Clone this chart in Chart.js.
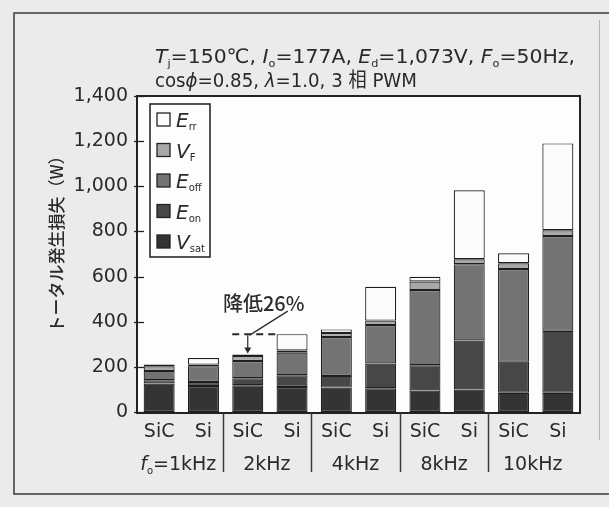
<!DOCTYPE html>
<html>
<head>
<meta charset="utf-8">
<style>
  html, body { margin: 0; padding: 0; background: #ebebeb; }
  canvas { display: block; }
</style>
<script src="https://cdn.jsdelivr.net/npm/chart.js@4.4.0/dist/chart.umd.min.js"></script>
</head>
<body>
<canvas id="chart" width="609" height="507"></canvas>
<script>
// Device under test for each bar, and the switching frequency of each SiC/Si pair
const devices = ['SiC', 'Si', 'SiC', 'Si', 'SiC', 'Si', 'SiC', 'Si', 'SiC', 'Si'];
const frequencies = ['1kHz', '2kHz', '4kHz', '8kHz', '10kHz'];
const yTicks = [0, 200, 400, 600, 800, 1000, 1200, 1400];
const yTitle = 'トータル発生損失（W）';

// Loss components (W), stacked from the bottom up
const vsat = [126, 115, 119, 111, 108, 105, 95, 100, 85, 85];
const eon  = [15, 18, 31, 52, 52, 110, 112, 217, 138, 275];
const eoff = [41, 70, 76, 100, 172, 170, 333, 338, 410, 420];
const vf   = [21, 7, 22, 10, 18, 20, 38, 22, 26, 25];
const err  = [7, 29, 7, 72, 16, 150, 21, 305, 44, 385];

// Series names: main symbol and subscript
const seriesNames = [['V', 'sat'], ['E', 'on'], ['E', 'off'], ['V', 'F'], ['E', 'rr']];
const seriesValues = [vsat, eon, eoff, vf, err];
const seriesColors = ['#343434', '#474747', '#737373', '#a8a8a8', '#fbfbfb'];

// Operating conditions shown above the plot ('i' italic, 's' subscript)
const conditions1 = [['T', 'i'], ['j', 's'], ['=150℃, ', ''], ['I', 'i'], ['o', 's'], ['=177A, ', ''],
                     ['E', 'i'], ['d', 's'], ['=1,073V, ', ''], ['F', 'i'], ['o', 's'], ['=50Hz,', '']];
const conditions2 = [['cos', ''], ['ϕ', 'i'], ['=0.85, ', ''], ['λ', 'i'], ['=1.0, 3 相 PWM', '']];

const ink = '#2a2a2a';
const sans = '"DejaVu Sans", "Noto Sans CJK JP", sans-serif';
const cjk = '"Noto Sans CJK JP", "DejaVu Sans", sans-serif';

const totals = devices.map((_, i) => seriesValues.reduce((s, arr) => s + arr[i], 0));

function segFont(seg, size) {
  const sz = seg[1] === 's' ? Math.round(size * 0.55) : size;
  return (seg[1] === 'i' ? 'italic ' : '') + sz + 'px ' + sans;
}

function drawRich(ctx, segs, x, yBase, size, targetW) {
  ctx.save();
  let w = 0;
  for (const s of segs) { ctx.font = segFont(s, size); w += ctx.measureText(s[0]).width; }
  const k = targetW ? targetW / w : 1;
  ctx.translate(x, yBase);
  ctx.scale(k, 1);
  ctx.textBaseline = 'alphabetic';
  ctx.textAlign = 'left';
  let cx = 0;
  for (const s of segs) {
    ctx.font = segFont(s, size);
    ctx.fillText(s[0], cx, s[1] === 's' ? size * 0.2 : 0);
    cx += ctx.measureText(s[0]).width;
  }
  ctx.restore();
  return w * k;
}

const paperPlugin = {
  id: 'paper',
  beforeDraw(chart) {
    const { ctx, chartArea: a } = chart;
    ctx.save();
    ctx.fillStyle = '#ebebeb';
    ctx.fillRect(0, 0, chart.width, chart.height);
    ctx.fillStyle = '#fdfdfd';
    ctx.fillRect(a.left, a.top, a.right - a.left, a.bottom - a.top);
    ctx.restore();
  },
  afterDraw(chart) {
    const { ctx, chartArea: a } = chart;
    const xs = chart.scales.x, ys = chart.scales.y;
    ctx.save();
    ctx.fillStyle = ink;
    ctx.strokeStyle = '#222';

    // page frame
    ctx.lineWidth = 1.5;
    ctx.strokeStyle = '#3a3a3a';
    ctx.beginPath();
    ctx.moveTo(609, 13); ctx.lineTo(14, 13); ctx.lineTo(14, 494); ctx.lineTo(609, 494);
    ctx.stroke();
    ctx.strokeStyle = '#b5b5b5';
    ctx.lineWidth = 1;
    ctx.beginPath(); ctx.moveTo(599.5, 20); ctx.lineTo(599.5, 440); ctx.stroke();

    // plot box
    ctx.strokeStyle = '#222';
    ctx.lineWidth = 2;
    ctx.strokeRect(a.left, a.top, a.right - a.left, a.bottom - a.top + 1);

    // inward tick marks on the value axis
    ctx.lineWidth = 1.3;
    for (const v of yTicks) {
      const py = Math.round(ys.getPixelForValue(v)) + 0.5;
      ctx.beginPath(); ctx.moveTo(a.left - 3, py); ctx.lineTo(a.left + 7, py); ctx.stroke();
    }

    // value axis title, reading bottom to top
    ctx.save();
    ctx.translate(57, 240);
    ctx.rotate(-Math.PI / 2);
    ctx.font = '500 17px ' + cjk;
    ctx.fillStyle = ink;
    ctx.textAlign = 'center';
    ctx.textBaseline = 'middle';
    ctx.fillText(yTitle, 0, 0);
    ctx.restore();

    // separators between frequency groups
    ctx.lineWidth = 1.5;
    ctx.strokeStyle = '#3a3a3a';
    for (let g = 1; g < frequencies.length; g++) {
      const px = Math.round((xs.getPixelForValue(2 * g - 1) + xs.getPixelForValue(2 * g)) / 2) - 2.5;
      ctx.beginPath(); ctx.moveTo(px, a.bottom + 1); ctx.lineTo(px, a.bottom + 60); ctx.stroke();
    }

    // frequency labels under each pair
    ctx.fillStyle = ink;
    frequencies.forEach((f, g) => {
      const cxp = (xs.getPixelForValue(2 * g) + xs.getPixelForValue(2 * g + 1)) / 2 - 3;
      const yb = a.bottom + 58;
      if (g === 0) {
        const segs = [['f', 'i'], ['o', 's'], ['=' + f, '']];
        let w = 0;
        for (const s of segs) { ctx.font = segFont(s, 19); w += ctx.measureText(s[0]).width; }
        drawRich(ctx, segs, cxp - w / 2, yb, 19, 0);
      } else {
        ctx.font = '19px ' + sans;
        ctx.textAlign = 'center';
        ctx.textBaseline = 'alphabetic';
        ctx.fillText(f, cxp, yb);
      }
    });

    // operating conditions
    ctx.fillStyle = ink;
    drawRich(ctx, conditions1, 155, 63, 20, 420);
    drawRich(ctx, conditions2, 155, 87, 20, 262);

    // legend
    const lx = 150, ly = 104, lw = 60, lh = 153;
    ctx.fillStyle = '#fdfdfd';
    ctx.fillRect(lx, ly, lw, lh);
    ctx.strokeStyle = '#2a2a2a';
    ctx.lineWidth = 1.6;
    ctx.strokeRect(lx, ly, lw, lh);
    for (let r = 0; r < seriesNames.length; r++) {
      const idx = seriesNames.length - 1 - r;
      const cy = 120 + 30.5 * r;
      ctx.fillStyle = seriesColors[idx];
      ctx.fillRect(157, cy - 7, 13, 13);
      ctx.lineWidth = 1.3;
      ctx.strokeStyle = '#222';
      ctx.strokeRect(157, cy - 7, 13, 13);
      ctx.fillStyle = ink;
      ctx.textAlign = 'left';
      ctx.textBaseline = 'alphabetic';
      ctx.font = 'italic 20px ' + sans;
      ctx.fillText(seriesNames[idx][0], 176, cy + 7);
      const mw = ctx.measureText(seriesNames[idx][0]).width;
      ctx.font = '10px ' + sans;
      ctx.fillText(seriesNames[idx][1], 176 + mw, cy + 10);
    }

    // reduction note between the 2 kHz SiC and Si bars
    const sicTop = ys.getPixelForValue(totals[2]);
    const siTop = ys.getPixelForValue(totals[3]);
    const cx2 = xs.getPixelForValue(2);
    const bw = chart.getDatasetMeta(0).data[2].width;
    ctx.strokeStyle = '#2a2a2a';
    ctx.lineWidth = 2;
    ctx.setLineDash([7, 5]);
    ctx.beginPath();
    ctx.moveTo(cx2 - bw / 2, siTop); ctx.lineTo(xs.getPixelForValue(3) - bw / 2, siTop);
    ctx.stroke();
    ctx.setLineDash([]);
    ctx.lineWidth = 1.2;
    ctx.beginPath();
    ctx.moveTo(cx2 + 40, siTop - 23); ctx.lineTo(cx2 + 2, siTop + 1);
    ctx.moveTo(cx2, siTop + 1); ctx.lineTo(cx2, sicTop - 5);
    ctx.stroke();
    ctx.fillStyle = '#2a2a2a';
    ctx.beginPath();
    ctx.moveTo(cx2 - 3.5, sicTop - 7); ctx.lineTo(cx2 + 3.5, sicTop - 7); ctx.lineTo(cx2, sicTop - 1);
    ctx.closePath(); ctx.fill();
    const pct = Math.round((1 - totals[2] / totals[3]) * 100);
    ctx.font = '500 20px ' + cjk;
    ctx.textAlign = 'center';
    ctx.textBaseline = 'middle';
    ctx.fillStyle = '#2e2e2e';
    ctx.fillText('降低' + pct + '%', cx2 + 16, siTop - 31);

    ctx.restore();
  }
};

new Chart(document.getElementById('chart'), {
  type: 'bar',
  data: {
    labels: devices,
    datasets: seriesValues.map((vals, i) => ({
      label: seriesNames[i].join(''),
      data: vals,
      backgroundColor: seriesColors[i],
      borderColor: '#1e1e1e',
      borderWidth: 1.2,
      borderSkipped: false,
      barPercentage: 0.7,
      categoryPercentage: 1.0,
      stack: 'loss'
    }))
  },
  options: {
    responsive: false,
    animation: false,
    layout: { padding: { top: 96, right: 29, bottom: 0, left: 0 } },
    plugins: { legend: { display: false }, tooltip: { enabled: false } },
    scales: {
      x: {
        stacked: true,
        offset: true,
        afterFit: s => { s.height = 95; },
        grid: { display: false, drawTicks: false },
        border: { display: false },
        ticks: { padding: 9, color: ink, font: { family: sans, size: 19 }, maxRotation: 0, autoSkip: false }
      },
      y: {
        stacked: true,
        min: 0,
        max: 1400,
        afterBuildTicks: s => { s.ticks = yTicks.map(v => ({ value: v })); },
        afterFit: s => { s.width = 137; },
        grid: { display: false, drawTicks: false },
        border: { display: false },
        ticks: {
          padding: 9,
          color: ink,
          font: { family: sans, size: 19 },
          callback: v => v.toLocaleString('en-US')
        },
        title: { display: false }
      }
    }
  },
  plugins: [paperPlugin]
});
</script>
</body>
</html>
